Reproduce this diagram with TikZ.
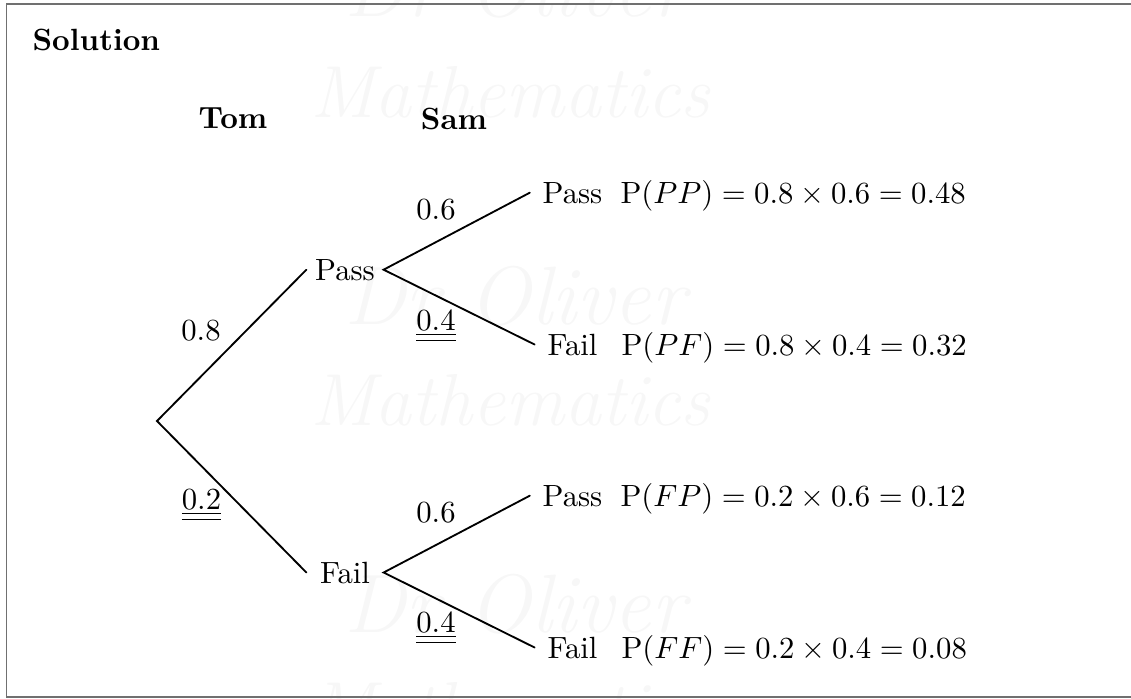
\documentclass[tikz,border=0pt]{standalone}
\begin{document}
\begin{tikzpicture}[x=0.3257pt,y=-0.3257pt,
  frame/.style={draw={rgb,255:red,112;green,112;blue,112}, line width=0.65pt},
  branch/.style={line width=0.6pt, line cap=round},
  mid/.style={inner xsep=0pt, inner ysep=2pt, minimum width=24.75pt},
  leaf/.style={inner xsep=4pt, inner ysep=2pt},
  res/.style={anchor=base west, inner sep=0pt},
  prob/.style={anchor=base, inner sep=0pt},
  head/.style={anchor=base, inner sep=0pt, font=\bfseries},
  wm/.style={inner sep=0pt, text={rgb,255:red,247;green,247;blue,247}, font=\fontsize{27}{27}\selectfont\itshape},
  wmm/.style={wm, font=\fontsize{24}{24}\selectfont\itshape}]
\useasboundingbox (0,0) rectangle (1131,698);
% watermark
\node[wm] (wm1) at (515,-12) {Dr Oliver};
\node[wmm] (wm2) at (510,92) {Mathematics};
\node[wm] (wm3) at (515,296) {Dr Oliver};
\node[wmm] (wm4) at (510,400) {Mathematics};
\node[wm] (wm5) at (515,604) {Dr Oliver};
\node[wmm] (wm6) at (510,708) {Mathematics};
% frame
\draw[frame] (6.5,3.5) rectangle (1140,696.5);
% headings
\node[head, anchor=base west] (sol) at (32,50) {Solution};
\node[head] (tom) at (233,128) {Tom};
\node[head] (sam) at (454,129) {Sam};
% tree
\coordinate (root) at (157,421);
\node[mid, anchor=base] (P) at (345,280) {Pass};
\node[mid, anchor=base] (F) at (345,583) {Fail};
\node[leaf, anchor=base] (PP) at (572.5,203) {Pass};
\node[leaf, anchor=base] (PF) at (572.5,355) {Fail};
\node[leaf, anchor=base] (FP) at (572.5,506) {Pass};
\node[leaf, anchor=base] (FF) at (572.5,658) {Fail};
\draw[branch] (P.west) -- (root) -- (F.west);
\draw[branch] (PP.west) -- (P.east) -- (PF.west);
\draw[branch] (FP.west) -- (F.east) -- (FF.west);
% probabilities
\node[prob] (l08) at (201,340) {0.8};
\node[prob] (l02) at (201.5,509) {$\underline{\underline{0.2}}$};
\node[prob] (l06a) at (436,219) {0.6};
\node[prob] (l04a) at (436,330) {$\underline{\underline{0.4}}$};
\node[prob] (l06b) at (436,522) {0.6};
\node[prob] (l04b) at (436,632) {$\underline{\underline{0.4}}$};
% results
\node[res] (rPP) at (620,203) {$\mathrm{P}(PP) = 0.8 \times 0.6 = 0.48$};
\node[res] (rPF) at (621,355) {$\mathrm{P}(PF) = 0.8 \times 0.4 = 0.32$};
\node[res] (rFP) at (620,506) {$\mathrm{P}(FP) = 0.2 \times 0.6 = 0.12$};
\node[res] (rFF) at (621,658) {$\mathrm{P}(FF) = 0.2 \times 0.4 = 0.08$};
\end{tikzpicture}
\end{document}
